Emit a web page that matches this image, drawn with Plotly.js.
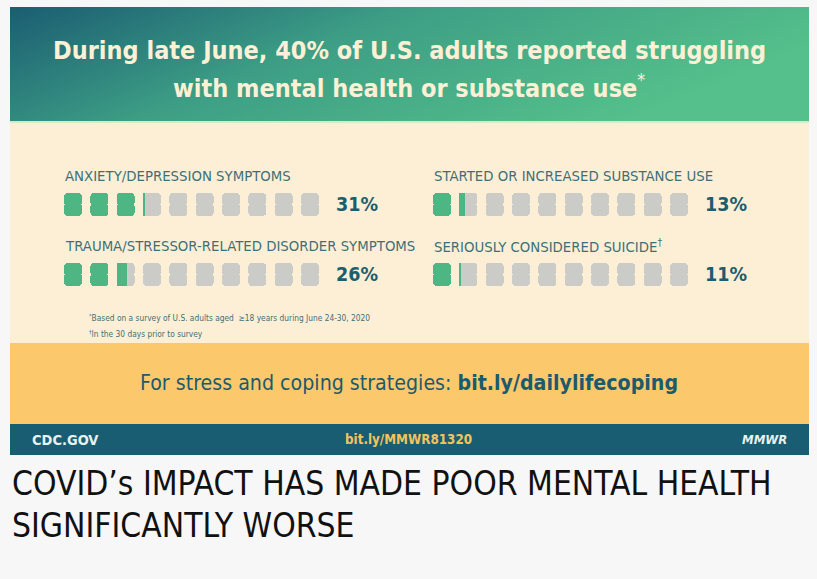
<!DOCTYPE html>
<html>
<head>
<meta charset="utf-8">
<script src="https://cdn.plot.ly/plotly-3.0.1.min.js"></script>
<style>html,body{margin:0;padding:0;background:#f7f7f7;}#chart{width:817px;height:579px;}</style>
</head>
<body>
<div id="chart"></div>
<script>
// ---- data ----
const categories = ["ANXIETY/DEPRESSION SYMPTOMS", "TRAUMA/STRESSOR-RELATED DISORDER SYMPTOMS", "STARTED OR INCREASED SUBSTANCE USE", "SERIOUSLY CONSIDERED SUICIDE"];
const categoryMarks = ["", "", "", "†"];
const percentValues = [31, 26, 13, 11];
const iconSlots = [0, 1, 2, 3, 4, 5, 6, 7, 8, 9];
const headlineLines = ["During late June, 40% of U.S. adults reported struggling", "with mental health or substance use"];
const footnotes = ["<sup>*</sup>Based on a survey of U.S. adults aged  ≥18 years during June 24-30, 2020", "<sup>†</sup>In the 30 days prior to survey"];
const callout = ["For stress and coping strategies: ", "bit.ly/dailylifecoping"];
const footerTexts = ["CDC.GOV", "bit.ly/MMWR81320", "MMWR"];
const captionLines = ["COVID’s IMPACT HAS MADE POOR MENTAL HEALTH", "SIGNIFICANTLY WORSE"];

// ---- styling ----
const W = 817, H = 579;
const px = x => x / W, py = y => 1 - y / H;
const NARROW = "'DejaVu Sans Condensed', 'Liberation Sans Narrow', sans-serif";
const GREEN = '#4db683', GRAY = '#cbcbc7', TEAL = '#1c5d6e', LABEL = '#3e6f77';
const BAR_W = 0.685, RAD = 4;
const colDomains = [[59.85, 323.15], [428.85, 692.15]];
const rowDomains = [[193, 216], [263, 286]];

const traces = [];
const layout = {
  width: W, height: H, margin: {l: 0, r: 0, t: 0, b: 0},
  paper_bgcolor: '#f7f7f7', plot_bgcolor: 'rgba(0,0,0,0)',
  showlegend: false, barmode: 'overlay', bargap: 0,
  shapes: [], annotations: [], images: []
};

function roundedBars(xs, color, xa, ya) {
  const common = {type: 'bar', x: xs, width: BAR_W, xaxis: xa, yaxis: ya, hoverinfo: 'skip',
    marker: {color: color, cornerradius: RAD, line: {width: 0}}};
  traces.push(Object.assign({}, common, {y: xs.map(() => -0.55), base: xs.map(() => 0.55)}));
  traces.push(Object.assign({}, common, {y: xs.map(() => 0.55), base: xs.map(() => 0.45)}));
}

categories.forEach((cat, i) => {
  const col = i < 2 ? 0 : 1, row = i % 2;
  const k = i === 0 ? '' : String(i + 1);
  const xa = 'x' + k, ya = 'y' + k;
  const cd = colDomains[col], rd = rowDomains[row];
  layout['xaxis' + k] = {domain: [px(cd[0]), px(cd[1])], range: [-0.5, 9.5], visible: false, fixedrange: true, anchor: ya};
  layout['yaxis' + k] = {domain: [py(rd[1]), py(rd[0])], range: [0, 1], visible: false, fixedrange: true, anchor: xa};
  const filled = percentValues[i] / 10;
  const full = Math.floor(filled);
  const frac = filled - full;
  roundedBars(iconSlots, GRAY, xa, ya);
  const greens = iconSlots.filter(s => s < full);
  if (greens.length) roundedBars(greens, GREEN, xa, ya);
  if (frac > 0.001) {
    traces.push({type: 'bar', x: [full], y: [1], base: [0], width: [frac * BAR_W], offset: [-BAR_W / 2],
      xaxis: xa, yaxis: ya, hoverinfo: 'skip', marker: {color: GREEN, line: {width: 0}}});
  }
  // category label
  layout.annotations.push({text: cat + (categoryMarks[i] ? '<sup>' + categoryMarks[i] + '</sup>' : ''),
    xref: 'paper', yref: 'paper', x: px(cd[0] + 3.6), y: py(rd[0] - 18), xanchor: 'left', yanchor: 'middle',
    showarrow: false, font: {family: NARROW, size: 14.8, color: LABEL}});
  // percentage
  layout.annotations.push({text: '<b>' + percentValues[i] + '%</b>',
    xref: 'paper', yref: 'paper', x: px(cd[1] + 11), y: py((rd[0] + rd[1]) / 2), xanchor: 'left', yanchor: 'middle',
    showarrow: false, font: {family: NARROW, size: 19.5, color: TEAL}});
});

// ---- background panels ----
const gradSvg = "<svg xmlns='http://www.w3.org/2000/svg' width='799' height='115'><defs><linearGradient id='g' x1='0' y1='0' x2='1' y2='0.35'><stop offset='0' stop-color='#1b5d72'/><stop offset='0.45' stop-color='#3d9e85'/><stop offset='1' stop-color='#55c08b'/></linearGradient></defs><rect width='799' height='115' fill='url(#g)'/></svg>";
layout.images.push({source: 'data:image/svg+xml;charset=utf-8,' + encodeURIComponent(gradSvg),
  xref: 'paper', yref: 'paper', x: px(10), y: py(7), sizex: 799 / W, sizey: 115 / H,
  xanchor: 'left', yanchor: 'top', sizing: 'stretch', layer: 'below'});
function rect(x0, y0, x1, y1, color) {
  layout.shapes.push({type: 'rect', xref: 'paper', yref: 'paper', x0: px(x0), x1: px(x1), y0: py(y1), y1: py(y0),
    fillcolor: color, line: {width: 0}, layer: 'below'});
}
rect(10, 122, 809, 343, '#fdefd5');
rect(10, 121, 809, 123, '#d9e8c6');
rect(10, 343, 809, 424, '#fbc96b');
rect(10, 424, 809, 455, '#185d72');

// ---- headline ----
layout.annotations.push({text: '<b>' + headlineLines[0] + '</b>', xref: 'paper', yref: 'paper', x: px(409.5), y: py(50),
  xanchor: 'center', yanchor: 'middle', showarrow: false, font: {family: NARROW, size: 25, color: '#fcf1d6'}});
layout.annotations.push({text: '<b>' + headlineLines[1] + '</b><sup>*</sup>', xref: 'paper', yref: 'paper', x: px(409.5), y: py(86),
  xanchor: 'center', yanchor: 'middle', showarrow: false, font: {family: NARROW, size: 25, color: '#fcf1d6'}});

// ---- footnotes ----
footnotes.forEach((t, j) => {
  layout.annotations.push({text: t, xref: 'paper', yref: 'paper', x: px(87), y: py(318 + j * 16),
    xanchor: 'left', yanchor: 'middle', showarrow: false, font: {family: NARROW, size: 8.3, color: '#3e6f77'}});
});

// ---- callout ----
layout.annotations.push({text: callout[0] + '<b>' + callout[1] + '</b>', xref: 'paper', yref: 'paper', x: px(409.5), y: py(383),
  xanchor: 'center', yanchor: 'middle', showarrow: false, font: {family: NARROW, size: 21.2, color: '#1d5a6b'}});

// ---- footer ----
layout.annotations.push({text: '<b>' + footerTexts[0] + '</b>', xref: 'paper', yref: 'paper', x: px(30), y: py(439.5),
  xanchor: 'left', yanchor: 'middle', showarrow: false, font: {family: NARROW, size: 14.5, color: '#e9f1f1'}});
layout.annotations.push({text: '<b>' + footerTexts[1] + '</b>', xref: 'paper', yref: 'paper', x: px(408.5), y: py(439.5),
  xanchor: 'center', yanchor: 'middle', showarrow: false, font: {family: NARROW, size: 13.3, color: '#f3c45c'}});
layout.annotations.push({text: '<b><i>' + footerTexts[2] + '</i></b>', xref: 'paper', yref: 'paper', x: px(789), y: py(439.5),
  xanchor: 'right', yanchor: 'middle', showarrow: false, font: {family: NARROW, size: 13, color: '#e9f1f1'}});

// ---- caption ----
captionLines.forEach((t, j) => {
  layout.annotations.push({text: t, xref: 'paper', yref: 'paper', x: px(10), y: py(483 + j * 42),
    xanchor: 'left', yanchor: 'middle', showarrow: false, font: {family: NARROW, size: 33.3, color: '#111111'}});
});

Plotly.newPlot('chart', traces, layout, {displayModeBar: false, staticPlot: true});
</script>
</body>
</html>
